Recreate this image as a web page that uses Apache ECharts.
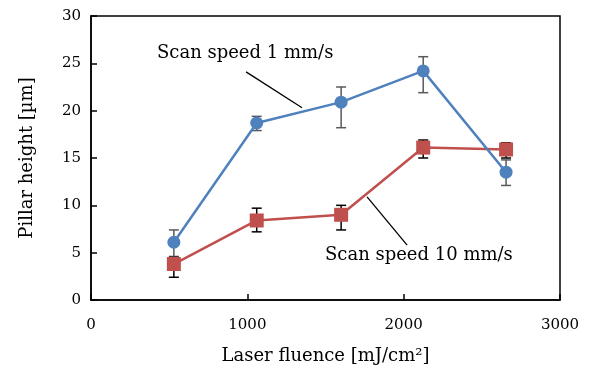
<!DOCTYPE html>
<html>
<head>
<meta charset="utf-8">
<script src="https://cdn.jsdelivr.net/npm/echarts@6/dist/echarts.min.js"></script>
<style>
  html, body { margin: 0; padding: 0; background: #fff; }
  #chart { width: 590px; height: 372px; }
</style>
</head>
<body>
<div id="chart"></div>
<script>
// fluence [mJ/cm2]
var fluence = [530, 1060, 1600, 2125, 2655];
// scan speed 1 mm/s
var slowHeight = [6.1, 18.7, 20.9, 24.2, 13.5];
var slowLow = [4.6, 17.9, 18.2, 21.9, 12.1];
var slowHigh = [7.4, 19.4, 22.5, 25.7, 14.8];
// scan speed 10 mm/s
var fastHeight = [3.8, 8.4, 9.0, 16.1, 15.9];
var fastLow = [2.4, 7.2, 7.4, 15.0, 15.0];
var fastHigh = [4.5, 9.7, 10.0, 16.9, 16.6];

var fontName = "DejaVu Serif";

function pairs(xs, ys) {
  return xs.map(function (x, i) { return [x, ys[i]]; });
}
function errRows(xs, lo, hi) {
  return xs.map(function (x, i) { return [x, lo[i], hi[i]]; });
}

function errorBar(color) {
  return function (params, api) {
    var x = api.value(0);
    var lo = api.coord([x, api.value(1)]);
    var hi = api.coord([x, api.value(2)]);
    var w = 5;
    var st = { stroke: color, lineWidth: 1.5 };
    return {
      type: "group",
      children: [
        { type: "line", shape: { x1: lo[0], y1: lo[1], x2: hi[0], y2: hi[1] }, style: st },
        { type: "line", shape: { x1: lo[0] - w, y1: lo[1], x2: lo[0] + w, y2: lo[1] }, style: st },
        { type: "line", shape: { x1: hi[0] - w, y1: hi[1], x2: hi[0] + w, y2: hi[1] }, style: st }
      ]
    };
  };
}

var myChart = echarts.init(document.getElementById("chart"));
var option = {
  animation: false,
  backgroundColor: "#fff",
  grid: {
    left: 91, right: 30, top: 16, bottom: 72,
    show: true, borderColor: "#000", borderWidth: 1.5, backgroundColor: "transparent"
  },
  xAxis: {
    type: "value", min: 0, max: 3000, interval: 1000,
    name: "Laser fluence [mJ/cm²]", nameLocation: "middle", nameGap: 47,
    nameTextStyle: { fontFamily: fontName, fontSize: 18, color: "#000" },
    axisLine: { lineStyle: { color: "#000", width: 1.5 } },
    axisTick: { inside: true, length: 6, lineStyle: { color: "#000", width: 1.5 } },
    axisLabel: { fontFamily: fontName, fontSize: 15, color: "#000", margin: 18,
      formatter: function (v) { return String(v); } },
    splitLine: { show: false }
  },
  yAxis: {
    type: "value", min: 0, max: 30, interval: 5,
    name: "Pillar height [µm]", nameLocation: "middle", nameGap: 55,
    nameTextStyle: { fontFamily: fontName, fontSize: 18, color: "#000" },
    axisLine: { show: true, lineStyle: { color: "#000", width: 1.5 } },
    axisTick: { show: true, inside: true, length: 6, lineStyle: { color: "#000", width: 1.5 } },
    axisLabel: { fontFamily: fontName, fontSize: 15, color: "#000", margin: 10 },
    splitLine: { show: false }
  },
  series: [
    {
      type: "custom", renderItem: errorBar("#595959"), zlevel: 0, z: 1,
      data: errRows(fluence, slowLow, slowHigh),
      encode: { x: 0, y: [1, 2] }
    },
    {
      type: "custom", renderItem: errorBar("#000"), zlevel: 0, z: 1,
      data: errRows(fluence, fastLow, fastHigh),
      encode: { x: 0, y: [1, 2] }
    },
    {
      name: "Scan speed 1 mm/s", type: "line", zlevel: 1, z: 3,
      data: pairs(fluence, slowHeight),
      symbol: "circle", symbolSize: 13,
      lineStyle: { color: "#4f81bd", width: 2.5 },
      itemStyle: { color: "#4f81bd" },
      markLine: {
        silent: true, symbol: "none", label: { show: false },
        lineStyle: { color: "#000", width: 1.3, type: "solid" },
        data: [[{ coord: [992, 24.1] }, { coord: [1350, 20.3] }]]
      }
    },
    {
      name: "Scan speed 10 mm/s", type: "line", zlevel: 1, z: 2,
      data: pairs(fluence, fastHeight),
      symbol: "rect", symbolSize: 14,
      lineStyle: { color: "#c0504d", width: 2.5 },
      itemStyle: { color: "#c0504d" },
      markLine: {
        silent: true, symbol: "none", label: { show: false },
        lineStyle: { color: "#000", width: 1.3, type: "solid" },
        data: [[{ coord: [1766, 10.9] }, { coord: [2022, 5.8] }]]
      }
    }
  ],
  graphic: [
    { type: "text", left: 157, top: 44,
      style: { text: "Scan speed 1 mm/s", fontFamily: fontName, fontSize: 18, fill: "#000" } },
    { type: "text", left: 325, top: 246,
      style: { text: "Scan speed 10 mm/s", fontFamily: fontName, fontSize: 18, fill: "#000" } }
  ]
};
myChart.setOption(option, true);
</script>
</body>
</html>
